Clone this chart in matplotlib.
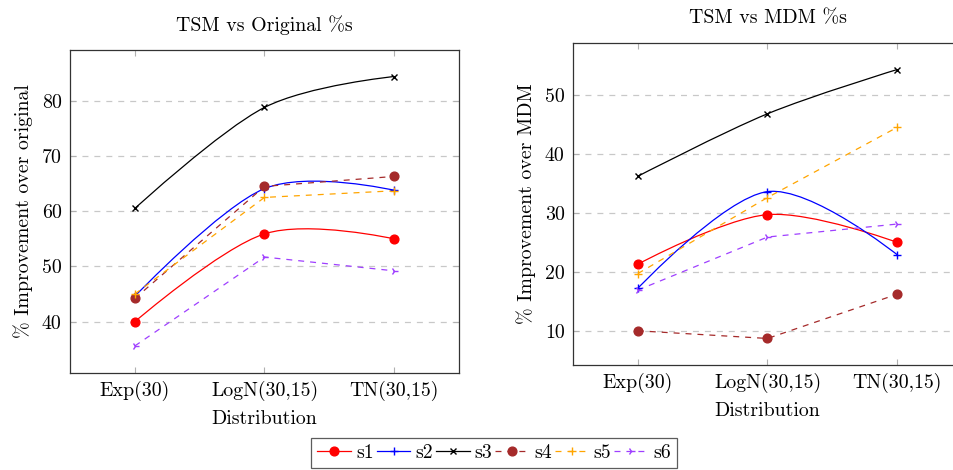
import matplotlib
matplotlib.use("Agg")
import matplotlib.pyplot as plt
from matplotlib.path import Path
from matplotlib.patches import PathPatch
from matplotlib.lines import Line2D

# data
categories = ["Exp(30)", "LogN(30,15)", "TN(30,15)"]
series_names = ["s1", "s2", "s3", "s4", "s5", "s6"]

orig_s1 = [40.0, 55.9, 55.0]
orig_s2 = [44.6, 64.1, 63.8]
orig_s3 = [60.5, 78.8, 84.4]
orig_s4 = [44.2, 64.5, 66.3]
orig_s5 = [45.0, 62.5, 63.7]
orig_s6 = [35.6, 51.7, 49.2]

mdm_s1 = [21.3, 29.7, 25.0]
mdm_s2 = [17.2, 33.6, 22.9]
mdm_s3 = [36.2, 46.8, 54.3]
mdm_s4 = [10.0, 8.7, 16.2]
mdm_s5 = [19.7, 32.6, 44.5]
mdm_s6 = [16.9, 25.9, 28.1]

orig_yticks = [40, 50, 60, 70, 80]
mdm_yticks = [10, 20, 30, 40, 50]

plt.rcParams['font.family'] = ['cmr10', 'DejaVu Serif']
plt.rcParams['mathtext.fontset'] = 'cm'
plt.rcParams['axes.formatter.use_mathtext'] = True
plt.rcParams['lines.scale_dashes'] = False

FS = 14.3
LW = 0.9
DASH = (0, (4.3, 4.3))

styles = [
    dict(color='red', marker='o', ms=6.3, smooth=True, ls='-'),
    dict(color='blue', marker='+', ms=6, smooth=True, ls='-'),
    dict(color='black', marker='x', ms=4.5, smooth=True, ls='-'),
    dict(color='#A52A2A', marker='o', ms=6.3, smooth=False, ls=DASH),
    dict(color='#FFA500', marker='+', ms=6, smooth=False, ls=DASH),
    dict(color='#9F3FFF', marker='4', ms=6, smooth=False, ls=DASH),
]


def smooth_path(xs, ys, tension=0.5):
    # tikz-like smooth curve through the points (bezier segments)
    k = tension / 3.0
    pts = list(zip(xs, ys))
    n = len(pts)
    verts = [pts[0]]
    codes = [Path.MOVETO]
    for i in range(n - 1):
        p0 = pts[i]
        p1 = pts[i + 1]
        if i == 0:
            c1 = p0
        else:
            a = pts[i - 1]
            c1 = (p0[0] + k * (p1[0] - a[0]), p0[1] + k * (p1[1] - a[1]))
        if i + 1 == n - 1:
            c2 = p1
        else:
            b = pts[i + 2]
            c2 = (p1[0] - k * (b[0] - p0[0]), p1[1] - k * (b[1] - p0[1]))
        verts += [c1, c2, p1]
        codes += [Path.CURVE4, Path.CURVE4, Path.CURVE4]
    return Path(verts, codes)


def draw_panel(ax, data, title, ylabel, yticks, ylim):
    x = list(range(len(categories)))
    for vals, st in zip(data, styles):
        if st['smooth']:
            patch = PathPatch(smooth_path(x, vals), facecolor='none',
                              edgecolor=st['color'], lw=LW, zorder=3)
            ax.add_patch(patch)
        else:
            ax.plot(x, vals, color=st['color'], lw=LW, linestyle=st['ls'], zorder=3)
        ax.plot(x, vals, linestyle='none', marker=st['marker'], ms=st['ms'],
                color=st['color'], mew=1.0, zorder=4)
    ax.set_xlim(-0.5, len(categories) - 0.5)
    ax.set_ylim(*ylim)
    ax.set_xticks(x)
    ax.set_xticklabels(categories, fontsize=FS)
    ax.set_yticks(yticks)
    ax.set_yticklabels([str(t) for t in yticks], fontsize=FS)
    ax.tick_params(direction='in', top=True, right=True, length=4,
                   color='#b0b0b0', pad=6)
    ax.yaxis.grid(True, linestyle=(0, (4.3, 4.3)), color='#c8c8c8', lw=0.9)
    ax.set_axisbelow(True)
    for sp in ax.spines.values():
        sp.set_linewidth(0.9)
        sp.set_color('#333333')
    ax.set_title(title, fontsize=FS, pad=14)
    ax.set_xlabel("Distribution", fontsize=FS, labelpad=6)
    ax.set_ylabel(ylabel, fontsize=FS, labelpad=6)


fig = plt.figure(figsize=(9.54, 4.70), dpi=100)
ax1 = fig.add_axes([70 / 954, 1 - 373 / 470, 389 / 954, 323 / 470])
ax2 = fig.add_axes([573 / 954, 1 - 365 / 470, 389 / 954, 322 / 470])

draw_panel(ax1, [orig_s1, orig_s2, orig_s3, orig_s4, orig_s5, orig_s6],
           "TSM vs Original %s", "% Improvement over original",
           orig_yticks, (30.7, 89.2))
draw_panel(ax2, [mdm_s1, mdm_s2, mdm_s3, mdm_s4, mdm_s5, mdm_s6],
           "TSM vs MDM %s", "% Improvement over MDM",
           mdm_yticks, (4.2, 58.8))

handles = []
for name, st in zip(series_names, styles):
    handles.append(Line2D([], [], color=st['color'], lw=LW, linestyle=st['ls'],
                          marker=st['marker'], ms=st['ms'], mew=1.0, label=name))
leg = fig.legend(handles=handles, loc='center', ncol=6,
                 bbox_to_anchor=(494 / 954, 1 - 453 / 470), fontsize=FS,
                 frameon=True, fancybox=False, handlelength=1.7,
                 handletextpad=0.25, columnspacing=0.15, borderpad=0.3,
                 borderaxespad=0)
leg.get_frame().set_edgecolor('#333333')
leg.get_frame().set_linewidth(0.9)

fig.savefig("out.png", dpi=100)
